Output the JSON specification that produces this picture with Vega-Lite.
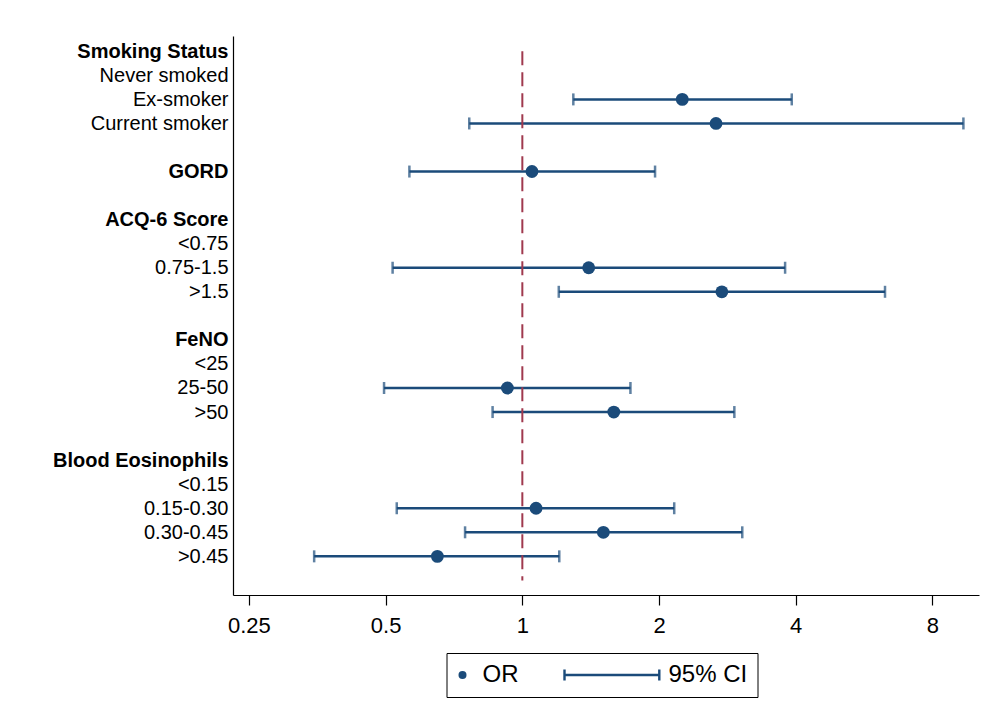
{
  "$schema": "https://vega.github.io/schema/vega-lite/v6.json",
  "width": 746,
  "height": 559,
  "autosize": {"type": "none"},
  "padding": {"left": 233, "top": 36, "right": 5, "bottom": 125},
  "background": "white",
  "config": {"view": {"stroke": null}, "font": "Liberation Sans"},
  "data": {
    "values": [
      {"row": 2, "label": "Ex-smoker", "or": 2.25, "lo": 1.295, "hi": 3.92, "series": "OR"},
      {"row": 3, "label": "Current smoker", "or": 2.67, "lo": 0.764, "hi": 9.36, "series": "OR"},
      {"row": 5, "label": "GORD", "or": 1.05, "lo": 0.564, "hi": 1.96, "series": "OR"},
      {"row": 9, "label": "0.75-1.5", "or": 1.40, "lo": 0.518, "hi": 3.79, "series": "OR"},
      {"row": 10, "label": ">1.5", "or": 2.75, "lo": 1.203, "hi": 6.29, "series": "OR"},
      {"row": 14, "label": "25-50", "or": 0.927, "lo": 0.496, "hi": 1.73, "series": "OR"},
      {"row": 15, "label": ">50", "or": 1.59, "lo": 0.86, "hi": 2.93, "series": "OR"},
      {"row": 19, "label": "0.15-0.30", "or": 1.072, "lo": 0.529, "hi": 2.16, "series": "OR"},
      {"row": 20, "label": "0.30-0.45", "or": 1.508, "lo": 0.748, "hi": 3.05, "series": "OR"},
      {"row": 21, "label": ">0.45", "or": 0.65, "lo": 0.348, "hi": 1.206, "series": "OR"}
    ]
  },
  "layer": [
    {
      "mark": {"type": "rule", "color": "#1b4b7a", "strokeWidth": 2.5},
      "encoding": {
        "x": {
          "field": "lo", "type": "quantitative",
          "scale": {"type": "log", "base": 2, "domain": [0.2306, 10.13], "nice": false},
          "axis": {
            "title": null, "values": [0.25, 0.5, 1, 2, 4, 8], "format": "~g", "tickCount": 20,
            "grid": false, "domainColor": "#000", "domainWidth": 1.2,
            "tickColor": "#000", "tickSize": 10, "tickWidth": 1.2,
            "labelFontSize": 22, "labelColor": "#000", "labelPadding": 10,
            "labelFlush": false, "labelOverlap": false
          }
        },
        "x2": {"field": "hi"},
        "y": {
          "field": "row", "type": "quantitative",
          "scale": {"domain": [-0.636, 22.607], "reverse": true, "nice": false, "zero": false},
          "axis": {
            "title": null, "values": [0,1,2,3,4,5,6,7,8,9,10,11,12,13,14,15,16,17,18,19,20,21],
            "tickCount": 40,
            "labelExpr": "['Smoking Status','Never smoked','Ex-smoker','Current smoker','','GORD','','ACQ-6 Score','<0.75','0.75-1.5','>1.5','','FeNO','<25','25-50','>50','','Blood Eosinophils','<0.15','0.15-0.30','0.30-0.45','>0.45'][datum.value]",
            "ticks": false, "grid": false, "domainColor": "#000", "domainWidth": 1.2,
            "labelFontSize": 20, "labelColor": "#000", "labelPadding": 5,
            "labelAlign": "right", "labelBaseline": "middle", "labelOverlap": false, "labelFlush": false,
            "labelFontWeight": {"condition": {"test": "datum.value == 0 || datum.value == 5 || datum.value == 7 || datum.value == 12 || datum.value == 17", "value": "bold"}, "value": "normal"}
          }
        }
      }
    },
    {
      "mark": {"type": "tick", "orient": "vertical", "size": 12, "thickness": 2.5, "color": "#1b4b7a"},
      "encoding": {
        "x": {"field": "lo", "type": "quantitative", "title": null},
        "y": {"field": "row", "type": "quantitative", "title": null}
      }
    },
    {
      "mark": {"type": "tick", "orient": "vertical", "size": 12, "thickness": 2.5, "color": "#1b4b7a"},
      "encoding": {
        "x": {"field": "hi", "type": "quantitative", "title": null},
        "y": {"field": "row", "type": "quantitative", "title": null}
      }
    },
    {
      "data": {"values": [{"ref": 1, "top": 0, "bottom": 22}]},
      "mark": {"type": "rule", "color": "#a0394e", "strokeWidth": 2, "strokeDash": [14, 7]},
      "encoding": {
        "x": {"field": "ref", "type": "quantitative", "title": null},
        "y": {"field": "top", "type": "quantitative", "title": null},
        "y2": {"field": "bottom"}
      }
    },
    {
      "mark": {"type": "point", "filled": true, "opacity": 1, "size": 165, "color": "#1b4b7a"},
      "encoding": {
        "x": {"field": "or", "type": "quantitative", "title": null},
        "y": {"field": "row", "type": "quantitative", "title": null},
        "shape": {
          "field": "series", "type": "nominal",
          "scale": {"domain": ["OR", "95% CI"], "range": ["circle", "M-21,-0.3L2.7,-0.3L2.7,0.3L-21,0.3Z M-21.3,-1.4L-20.7,-1.4L-20.7,1.4L-21.3,1.4Z M2.4,-1.4L3,-1.4L3,1.4L2.4,1.4Z"]},
          "legend": {
            "orient": "none", "legendX": 213.5, "legendY": 617, "direction": "horizontal",
            "title": null, "strokeColor": "#000", "fillColor": "white",
            "padding": 10, "labelFontSize": 24, "labelColor": "#000", "labelOffset": 8,
            "columnPadding": 41, "symbolSize": 64, "symbolOffset": -6,
            "symbolOpacity": 1,
            "encode": {
              "legend": {"strokeWidth": {"value": 1.5}},
              "symbols": {"size": {"value": 64}, "fill": {"value": "#1b4b7a"}, "opacity": {"value": 1}}
            }
          }
        }
      }
    }
  ]
}
